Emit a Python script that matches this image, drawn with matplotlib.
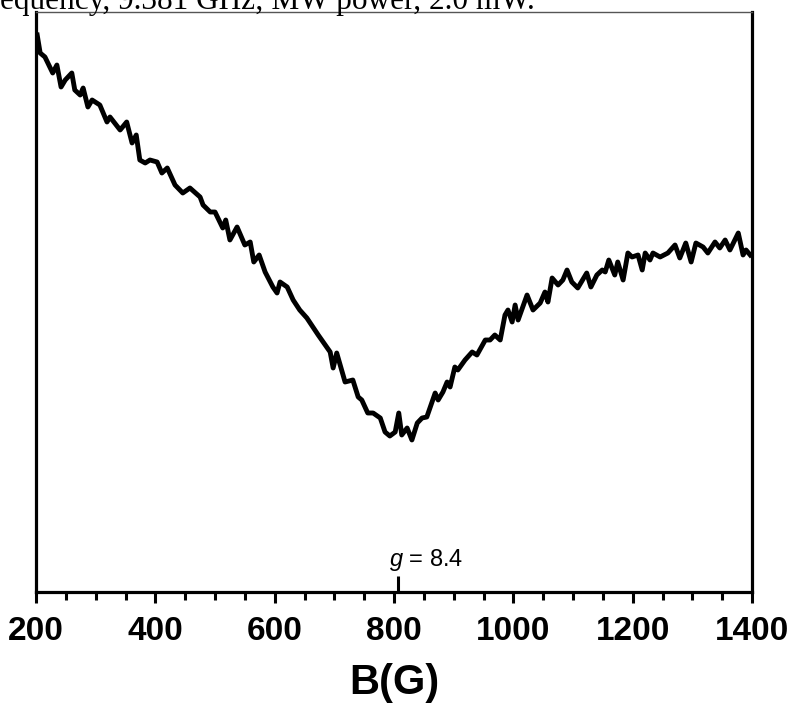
import numpy as np
import matplotlib.pyplot as plt

plt.rcParams['font.family'] = 'Liberation Sans'
plt.rcParams['mathtext.fontset'] = 'custom'
plt.rcParams['mathtext.it'] = 'Liberation Sans:italic'

# EPR spectrum (field in G, signal in arbitrary units)
field = [202, 207, 215, 228, 235, 242, 249, 260, 265, 274, 279, 287, 294, 307,
         319, 324, 341, 352, 361, 368, 374, 383, 391, 403, 411, 420, 433, 446,
         458, 475, 480, 492, 500, 513, 518, 525, 537, 550, 559, 565, 574, 584,
         597, 604, 609, 621, 631, 642, 654, 673, 693, 698, 704, 718, 731, 740,
         746, 756, 765, 777, 785, 793, 802, 808, 813, 822, 830, 839, 847, 855,
         869, 874, 882, 889, 894, 902, 907, 919, 931, 939, 953, 961, 969, 978,
         986, 991, 998, 1003, 1008, 1023, 1033, 1045, 1053, 1058, 1065, 1075,
         1083, 1090, 1098, 1108, 1123, 1130, 1140, 1149, 1154, 1160, 1170, 1175,
         1184, 1192, 1199, 1209, 1216, 1221, 1229, 1234, 1246, 1259, 1271, 1279,
         1289, 1298, 1306, 1318, 1326, 1338, 1346, 1355, 1363, 1377, 1385, 1390,
         1397]
signal = [557, 539, 535, 519, 527, 505, 512, 519, 502, 497, 504, 485, 492, 487,
          470, 475, 462, 470, 449, 457, 432, 429, 432, 430, 419, 424, 407, 399,
          404, 395, 387, 380, 380, 364, 372, 352, 365, 347, 350, 330, 337, 320,
          305, 299, 310, 305, 292, 282, 274, 257, 240, 224, 239, 210, 212, 195,
          192, 179, 179, 174, 160, 156, 160, 179, 157, 164, 152, 169, 174, 175,
          199, 192, 200, 210, 205, 225, 222, 232, 240, 237, 252, 252, 257, 252,
          277, 282, 270, 287, 272, 297, 282, 289, 300, 290, 314, 307, 312, 322,
          310, 304, 319, 305, 317, 322, 320, 332, 317, 330, 312, 339, 335, 337,
          322, 339, 332, 339, 335, 339, 347, 334, 349, 330, 349, 345, 339, 350,
          344, 352, 342, 359, 337, 342, 337]

g_field = 806
g_label = '$g$ = 8.4'
xticks = [200, 400, 600, 800, 1000, 1200, 1400]

fig = plt.figure(figsize=(7.92, 7.06), dpi=100)
ax = fig.add_axes([36/792, 1 - 592/706, 716/792, 580/706])

ax.plot(field, signal, color='black', lw=3.5, solid_joinstyle='round')

ax.set_xlim(200, 1400)
ax.set_ylim(0, 580)
ax.set_yticks([])
ax.set_xticks(xticks)
ax.set_xticks(np.arange(200, 1401, 50), minor=True)
ax.tick_params(axis='x', which='major', length=8, width=2.2, direction='out',
               pad=9, labelsize=24)
ax.tick_params(axis='x', which='minor', length=5.5, width=2.2, direction='out')
for lab in ax.get_xticklabels():
    lab.set_fontweight('bold')

for s in ['left', 'right', 'bottom']:
    ax.spines[s].set_linewidth(2.3)
ax.spines['top'].set_linewidth(1.0)
ax.spines['top'].set_color('#555555')

ax.set_xlabel('B(G)', fontsize=30, fontweight='bold', labelpad=12)

# g-value marker
ax.plot([g_field, g_field], [0, 16], color='black', lw=2.2, solid_capstyle='butt')
ax.text(g_field - 14, 26, g_label, fontsize=17, ha='left', va='baseline')

# clipped caption text at the top of the image
fig.text(0.0, 1 - 9/706, 'equency, 9.381 GHz; MW power, 2.0 mW.',
         family='Liberation Serif', fontsize=22.5, ha='left', va='baseline')

fig.savefig('out.png', dpi=100)
